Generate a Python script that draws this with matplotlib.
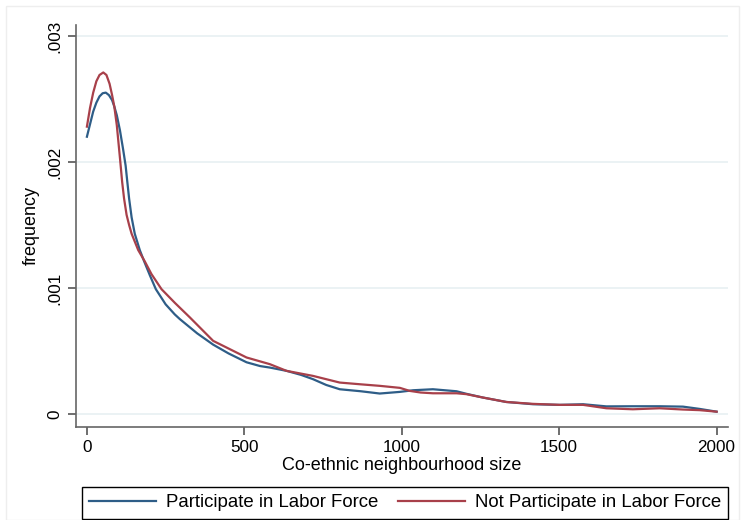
import matplotlib.pyplot as plt
from matplotlib.patches import Rectangle

# kernel density (values in 1e-3)
x_part = [0, 10, 20, 30, 40, 50, 60, 70, 80, 87, 95, 105, 115, 123, 128, 134, 142, 152, 168, 182,
          200, 219, 250, 279, 295, 350, 401, 450, 507, 550, 581, 634, 680, 718, 760, 803, 870, 930,
          994, 1036, 1099, 1174, 1205, 1258, 1332, 1417, 1502, 1576, 1650, 1734, 1819, 1893, 1946,
          2000]
y_part = [2.20, 2.30, 2.40, 2.47, 2.52, 2.545, 2.55, 2.53, 2.49, 2.44, 2.37, 2.25, 2.10, 1.97,
          1.85, 1.71, 1.56, 1.43, 1.30, 1.21, 1.10, 0.99, 0.87, 0.79, 0.753, 0.64, 0.55, 0.48, 0.41,
          0.38, 0.368, 0.342, 0.31, 0.276, 0.23, 0.196, 0.18, 0.162, 0.175, 0.188, 0.196, 0.18,
          0.16, 0.13, 0.095, 0.077, 0.072, 0.077, 0.06, 0.061, 0.061, 0.058, 0.04, 0.018]

x_notpart = [0, 10, 20, 30, 40, 52, 62, 72, 80, 87, 95, 105, 112, 118, 126, 134, 142, 163, 184,
             205, 237, 280, 327, 401, 507, 581, 634, 718, 803, 870, 930, 994, 1025, 1060, 1099,
             1174, 1205, 1258, 1332, 1417, 1502, 1576, 1650, 1734, 1819, 1893, 1946, 2000]
y_notpart = [2.28, 2.43, 2.55, 2.64, 2.69, 2.71, 2.69, 2.62, 2.53, 2.44, 2.29, 2.03, 1.84, 1.71,
             1.58, 1.50, 1.43, 1.30, 1.21, 1.11, 0.99, 0.88, 0.766, 0.58, 0.448, 0.395, 0.342,
             0.302, 0.249, 0.235, 0.223, 0.207, 0.183, 0.17, 0.164, 0.164, 0.157, 0.13, 0.095,
             0.08, 0.072, 0.072, 0.045, 0.037, 0.045, 0.035, 0.03, 0.018]

labels = ["Participate in Labor Force", "Not Participate in Labor Force"]
xticks = [0, 500, 1000, 1500, 2000]
yticks = [0, 0.001, 0.002, 0.003]
ytick_labels = ["0", ".001", ".002", ".003"]

plt.rcParams['font.family'] = ['Liberation Sans', 'DejaVu Sans']

fig = plt.figure(figsize=(7.44, 5.2), dpi=100)
ax = fig.add_axes([0.102, 0.179, 0.876, 0.773])

ax.plot(x_part, [v / 1000 for v in y_part], color='#2e5d87', lw=1.6, label=labels[0])
ax.plot(x_notpart, [v / 1000 for v in y_notpart], color='#a8404a', lw=1.6, label=labels[1])

ax.set_xlim(-35, 2035)
ax.set_ylim(-0.000103, 0.003087)
ax.set_xticks(xticks)
ax.set_yticks(yticks)
ax.set_yticklabels(ytick_labels, rotation=90, va='center')
ax.tick_params(axis='both', direction='out', length=6, width=1.2, color='#555555', labelsize=12.3)
ax.grid(axis='y', color='#e8f0f2', lw=1.2)
ax.set_axisbelow(True)

for s in ['top', 'right']:
    ax.spines[s].set_visible(False)
for s in ['left', 'bottom']:
    ax.spines[s].set_color('#666666')
    ax.spines[s].set_linewidth(1.2)

ax.set_xlabel("Co-ethnic neighbourhood size", fontsize=13, labelpad=1)
ax.set_ylabel("frequency", fontsize=13, labelpad=6)

fig.legend(loc='upper left', bbox_to_anchor=(0.110, 0.0635), borderaxespad=0, ncol=2,
           fontsize=13.4, frameon=True, fancybox=False, edgecolor='black', framealpha=1,
           handlelength=3.6, handletextpad=0.5, columnspacing=1.1, borderpad=0.4)

fig.patches.append(Rectangle((0.008, 0.0), 0.985, 0.988, transform=fig.transFigure,
                             fill=False, edgecolor='#eeeeee', lw=1))

fig.savefig("out.png", dpi=100)
